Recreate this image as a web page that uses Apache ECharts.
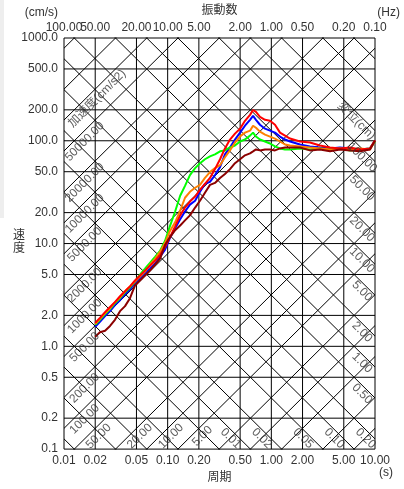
<!DOCTYPE html>
<html>
<head>
<meta charset="utf-8">
<script src="https://cdn.jsdelivr.net/npm/echarts@6/dist/echarts.min.js"></script>
<style>
html, body { margin: 0; padding: 0; background: #fff; }
#main { width: 404px; height: 489px; }
</style>
</head>
<body>
<div id="main"></div>
<script>
// 周期 (s)
var periods = [0.020, 0.0222, 0.0249, 0.0278, 0.0310, 0.0347, 0.0388, 0.0433, 0.0484, 0.0541,
	0.0604, 0.0675, 0.0755, 0.0843, 0.0942, 0.105, 0.118, 0.132, 0.147, 0.164,
	0.184, 0.205, 0.229, 0.256, 0.286, 0.320, 0.357, 0.399, 0.446, 0.499,
	0.557, 0.623, 0.666, 0.711, 0.777, 0.869, 0.971, 1.085, 1.212, 1.355,
	1.514, 1.890, 2.360, 2.947, 3.680, 4.596, 5.740, 7.165, 8.949, 10.0];

// 速度 (cm/s)
var vel_red = [1.69, 1.89, 2.15, 2.41, 2.69, 3.07, 3.43, 3.83, 4.37, 4.88,
	5.45, 6.08, 6.79, 7.76, 9.26, 11.5, 14.7, 18.8, 22.4, 25.6,
	28.6, 33.4, 38.1, 43.5, 53.0, 66.1, 84.3, 102.8, 117.4, 131.1,
	156.4, 178.6, 199.4, 190.8, 170.9, 159.9, 156.4, 143.2, 120.0, 112.3,
	105.1, 98.4, 96.2, 90.0, 86.1, 84.3, 86.1, 82.4, 84.3, 100.6];
var vel_blue = [1.55, 1.73, 1.97, 2.20, 2.52, 2.81, 3.21, 3.58, 4.09, 4.57,
	5.10, 5.69, 6.36, 7.42, 8.67, 11.3, 14.1, 17.2, 20.5, 23.9,
	26.1, 31.9, 38.1, 39.8, 46.4, 55.4, 73.8, 86.1, 102.8, 120.0,
	140.1, 159.9, 174.7, 159.9, 143.2, 131.1, 125.4, 120.0, 109.9, 102.8,
	98.4, 92.0, 88.1, 86.1, 84.3, 86.1, 84.3, 82.4, 84.3, 100.6];
var vel_orange = [1.65, 1.85, 2.11, 2.35, 2.69, 3.00, 3.43, 3.83, 4.27, 4.77,
	5.33, 6.22, 7.10, 8.29, 10.1, 13.2, 16.1, 20.9, 27.9, 31.9,
	34.9, 37.2, 43.5, 49.6, 54.2, 57.9, 69.1, 80.6, 96.2, 109.9,
	120.0, 125.4, 140.1, 134.0, 122.7, 114.8, 109.9, 105.1, 98.4, 92.0,
	90.0, 88.1, 86.1, 84.3, 82.4, 84.3, 82.4, 84.3, 82.4, 100.6];
var vel_green = [1.62, 1.81, 2.06, 2.30, 2.63, 2.94, 3.35, 3.74, 4.27, 4.99,
	5.69, 6.50, 7.42, 8.47, 10.6, 14.7, 20.5, 29.2, 36.4, 46.4,
	54.2, 60.5, 66.1, 70.6, 73.8, 78.9, 80.6, 86.1, 90.0, 98.4,
	102.8, 112.3, 120.0, 109.9, 102.8, 98.4, 94.1, 88.1, 84.3, 82.4,
	82.4, 84.3, 82.4, 84.3, 82.4, 84.3, 80.6, 82.4, 84.3, 98.4];
var vel_maroon = [1.24, 1.37, 1.42, 1.58, 1.81, 2.20, 2.46, 2.94, 3.91, 4.37,
	4.88, 5.45, 6.22, 7.10, 9.67, 11.5, 13.5, 15.0, 16.8, 18.8,
	22.4, 26.1, 31.2, 37.2, 38.9, 43.5, 47.5, 53.0, 60.5, 66.1,
	72.2, 75.5, 78.9, 82.4, 80.6, 82.4, 82.4, 80.6, 84.3, 86.1,
	86.1, 86.1, 80.6, 82.4, 78.9, 82.4, 80.6, 78.9, 82.4, 100.6];

// 目盛り
var period_ticks = [0.01, 0.02, 0.05, 0.1, 0.2, 0.5, 1, 2, 5, 10];
var velocity_ticks = [0.1, 0.2, 0.5, 1, 2, 5, 10, 20, 50, 100, 200, 500, 1000];

// 斜め線 (加速度 cm/s2, 変位 cm)
var accel_lines = [0.1, 0.2, 0.5, 1, 2, 5, 10, 20, 50, 100, 200, 500, 1000, 2000, 5000,
	10000, 20000, 50000, 100000, 200000, 500000];
var disp_lines = [0.0001, 0.0002, 0.0005, 0.001, 0.002, 0.005, 0.01, 0.02, 0.05, 0.1, 0.2, 0.5,
	1, 2, 5, 10, 20, 50, 100, 200, 500, 1000];
var accel_labels_left = [100, 200, 500, 1000, 2000, 5000, 10000, 20000, 50000];
var accel_labels_bottom = [5, 10, 20, 50];
var disp_labels_bottom = [0.01, 0.02, 0.05, 0.1, 0.2];
var disp_labels_right = [0.5, 1, 2, 5, 10, 20, 50, 100];

var FONT = 'Liberation Sans, Arial, Noto Sans CJK JP, sans-serif';
var L = function (v) { return Math.log10(v); };
var LOG_2PI = Math.log10(2 * Math.PI);
var X_MIN = -2, X_MAX = 1, Y_MIN = -1, Y_MAX = 3;

var series = [];

// 格子線
period_ticks.forEach(function (p) {
	series.push(gridLine([[L(p), Y_MIN], [L(p), Y_MAX]], false));
});
velocity_ticks.forEach(function (v) {
	series.push(gridLine([[X_MIN, L(v)], [X_MAX, L(v)]], false));
});
// 加速度線 V = A*T/2π
accel_lines.forEach(function (a) {
	series.push(gridLine([[X_MIN, L(a) + X_MIN - LOG_2PI], [X_MAX, L(a) + X_MAX - LOG_2PI]], true));
});
// 変位線 V = 2π*D/T
disp_lines.forEach(function (d) {
	series.push(gridLine([[X_MIN, LOG_2PI + L(d) - X_MIN], [X_MAX, LOG_2PI + L(d) - X_MAX]], true));
});

function gridLine(pts, clip) {
	return {
		type: 'line',
		data: pts,
		symbol: 'none',
		silent: true,
		clip: clip,
		animation: false,
		lineStyle: { color: '#000', width: 1 },
		z: 1
	};
}

// 斜め線のラベル位置
function accLeft(a, inset) {
	var lt = X_MIN + inset;
	return [lt, L(a) + lt - LOG_2PI - 0.11];
}
function accBottom(a) {
	var lv = Y_MIN + 0.125;
	return [lv + 0.11 - L(a) + LOG_2PI, lv];
}
function dispRight(d, inset) {
	var lt = X_MAX - inset;
	return [lt, LOG_2PI + L(d) - lt - 0.085];
}
function dispBottom(d) {
	var lv = Y_MIN + 0.105;
	return [LOG_2PI + L(d) - (lv + 0.085), lv];
}

var accel_label_data = [];
accel_labels_left.forEach(function (a) {
	accel_label_data.push({ name: a.toFixed(2), value: accLeft(a, 0.2) });
});
accel_labels_bottom.forEach(function (a) {
	accel_label_data.push({ name: a.toFixed(2), value: accBottom(a) });
});
accel_label_data.push({ name: '加速度(cm/s2)', value: accLeft(100000, 0.32) });

var disp_label_data = [];
disp_labels_bottom.forEach(function (d) {
	disp_label_data.push({ name: d.toFixed(2), value: dispBottom(d) });
});
disp_labels_right.forEach(function (d) {
	disp_label_data.push({ name: d.toFixed(2), value: dispRight(d, 0.125) });
});
disp_label_data.push({ name: '変位(cm)', value: dispRight(200, 0.18) });

function labelSeries(data, rotate) {
	return {
		type: 'scatter',
		data: data,
		symbolSize: 0,
		silent: true,
		animation: false,
		z: 3,
		label: {
			show: true,
			position: 'inside',
			formatter: '{b}',
			rotate: rotate,
			color: '#333',
			fontSize: 12,
			fontFamily: FONT
		}
	};
}
series.push(labelSeries(accel_label_data, 45));
series.push(labelSeries(disp_label_data, -45));

// スペクトル
var curves = [
	{ v: vel_blue, color: '#0000ff' },
	{ v: vel_green, color: '#00ff00' },
	{ v: vel_orange, color: '#ff8000' },
	{ v: vel_red, color: '#ff0000' },
	{ v: vel_maroon, color: '#8b0000' }
];
curves.forEach(function (c) {
	series.push({
		type: 'line',
		data: periods.map(function (p, i) { return [L(p), L(c.v[i])]; }),
		symbol: 'none',
		animation: false,
		z: 2,
		lineStyle: { color: c.color, width: 2 }
	});
});

function axisLabel(values, fmt, margin) {
	return {
		customValues: values,
		formatter: fmt,
		color: '#333',
		fontSize: 12,
		fontFamily: FONT,
		margin: margin,
		hideOverlap: false
	};
}

function plainXAxis(extra) {
	var ax = {
		type: 'value',
		min: X_MIN,
		max: X_MAX,
		axisLine: { show: false },
		axisTick: { show: false },
		splitLine: { show: false }
	};
	for (var k in extra) ax[k] = extra[k];
	return ax;
}

var freqFormat = function (v) { return (1 / Math.pow(10, v)).toFixed(2); };
var topTicks = period_ticks.map(L);

var option = {
	animation: false,
	textStyle: { fontFamily: FONT },
	grid: { left: 64, right: 29, top: 34, bottom: 38, containLabel: false },
	xAxis: [
		plainXAxis({
			name: '周期',
			nameLocation: 'middle',
			nameGap: 21,
			nameTextStyle: { color: '#333', fontSize: 12, fontFamily: FONT },
			axisLabel: axisLabel(period_ticks.map(L), function (v) { return Math.pow(10, v).toFixed(2); }, 6)
		}),
		plainXAxis({
			position: 'top',
			name: '振動数',
			nameLocation: 'middle',
			nameGap: 21,
			nameTextStyle: { color: '#333', fontSize: 12, fontFamily: FONT },
			axisLabel: axisLabel(topTicks.slice(1), freqFormat, 4)
		}),
		// 100.00 は 50.00 と重なるので別の軸で描く
		plainXAxis({
			position: 'top',
			axisLabel: axisLabel(topTicks.slice(0, 1), freqFormat, 4)
		})
	],
	yAxis: {
		type: 'value',
		min: Y_MIN,
		max: Y_MAX,
		axisLine: { show: false },
		axisTick: { show: false },
		splitLine: { show: false },
		axisLabel: axisLabel(velocity_ticks.map(L), function (v) { return Math.pow(10, v).toFixed(1); }, 6)
	},
	graphic: [
		{ type: 'rect', shape: { x: 0, y: 0, width: 4, height: 218 }, style: { fill: '#eeeeee' }, z: -1 },
		{ type: 'text', x: 58, y: 13, style: { text: '(cm/s)', fill: '#333', font: '12px ' + FONT, align: 'right', verticalAlign: 'middle' } },
		{ type: 'text', x: 400, y: 13, style: { text: '(Hz)', fill: '#333', font: '12px ' + FONT, align: 'right', verticalAlign: 'middle' } },
		{ type: 'text', x: 19, y: 242, style: { text: '速\n度', fill: '#333', font: '12px ' + FONT, align: 'center', verticalAlign: 'middle', lineHeight: 13 } },
		{ type: 'text', x: 393, y: 473, style: { text: '(s)', fill: '#333', font: '12px ' + FONT, align: 'right', verticalAlign: 'middle' } }
	],
	series: series
};

var myChart = echarts.init(document.getElementById('main'));
myChart.setOption(option);
</script>
</body>
</html>
